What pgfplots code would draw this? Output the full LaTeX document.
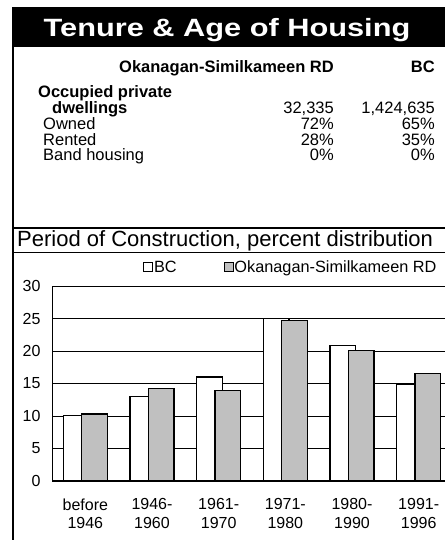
\documentclass[border=0pt]{standalone}
\usepackage{pgfplots}
\pgfplotsset{compat=1.18}
\usepackage{fontspec}
\setmainfont{Liberation Sans}
\definecolor{barsilver}{HTML}{C0C0C0}
\begin{document}
\begin{tikzpicture}[x=1pt,y=1pt]
\useasboundingbox (0,0) rectangle (445,540);
% frame
\fill[black] (12,493) rectangle (445,533);
\draw[line width=2pt] (13,493) -- (13,0);
\draw[line width=2pt] (12,312) -- (445,312);
\draw[line width=1pt] (13,287) -- (445,287);
% title
\node[anchor=base, text=white, font=\fontsize{25}{29}\selectfont\bfseries, xscale=1.23, inner sep=0pt] at (227,503) {Tenure \& Age of Housing};
% table
\begin{scope}[every node/.style={inner sep=0pt, font=\fontsize{16.5}{19}\selectfont}]
\node[anchor=base east, font=\fontsize{16.5}{19}\selectfont\bfseries] at (334,467) {Okanagan-Similkameen RD};
\node[anchor=base east, font=\fontsize{16.5}{19}\selectfont\bfseries] at (435,467) {BC};
\node[anchor=base west, font=\fontsize{16.5}{19}\selectfont\bfseries] at (38,442) {Occupied private};
\node[anchor=base west, font=\fontsize{16.5}{19}\selectfont\bfseries] at (52,426) {dwellings};
\node[anchor=base east] at (334,426) {32,335};
\node[anchor=base east] at (435,426) {1,424,635};
\node[anchor=base west] at (43,410) {Owned};
\node[anchor=base east] at (334,410) {72\%};
\node[anchor=base east] at (435,410) {65\%};
\node[anchor=base west] at (43,394.5) {Rented};
\node[anchor=base east] at (334,394.5) {28\%};
\node[anchor=base east] at (435,394.5) {35\%};
\node[anchor=base west] at (43,379) {Band housing};
\node[anchor=base east] at (334,379) {0\%};
\node[anchor=base east] at (435,379) {0\%};
\node[anchor=base west, font=\fontsize{22}{26}\selectfont] at (17,293) {Period of Construction, percent distribution};
\end{scope}
\begin{axis}[
  at={(52pt,59pt)}, anchor=south west,
  scale only axis, width=393pt, height=195pt,
  xmin=-0.5, xmax=5.395, ymin=0, ymax=30,
  axis lines=left, axis line style={-, line width=1pt},
  ytick={0,5,...,30}, xtick={0,...,5},
  xticklabels={before\\1946,1946-\\1960,1961-\\1970,1971-\\1980,1980-\\1990,1991-\\1996},
  major tick length=0pt,
  ymajorgrids, grid style={black, line width=0.9pt},
  /pgf/number format/assume math mode=true,
  tick label style={font=\fontsize{16}{18.5}\selectfont},
  xticklabel style={align=center, anchor=north, yshift=-14pt},
  yticklabel style={anchor=east, xshift=-8pt},
  legend style={draw=none, fill=none, at={(0.2316,1.097)}, anchor=west,
    inner sep=0pt, font=\fontsize{16.3}{19}\selectfont, legend columns=2,
    nodes={inner sep=1pt},
    /tikz/every even column/.append style={column sep=46pt}},
  legend image code/.code={\draw[#1, line width=0.8pt] (0pt,-4.5pt) rectangle (9pt,4.5pt);},
  clip=false,
]
\addplot[ybar, bar width=0.3855, bar shift=-0.1375, fill=white, draw=black, line width=1.1pt]
  coordinates {(0,10.1) (1,13.0) (2,16.0) (3,25.0) (4,20.9) (5,14.8)};
\addlegendentry{BC}
\addplot[ybar, bar width=0.3855, bar shift=0.1375, fill=barsilver, draw=black, line width=1.1pt]
  coordinates {(0,10.3) (1,14.2) (2,13.9) (3,24.7) (4,20.1) (5,16.6)};
\addlegendentry{Okanagan-Similkameen RD}
\end{axis}
\end{tikzpicture}
\end{document}
